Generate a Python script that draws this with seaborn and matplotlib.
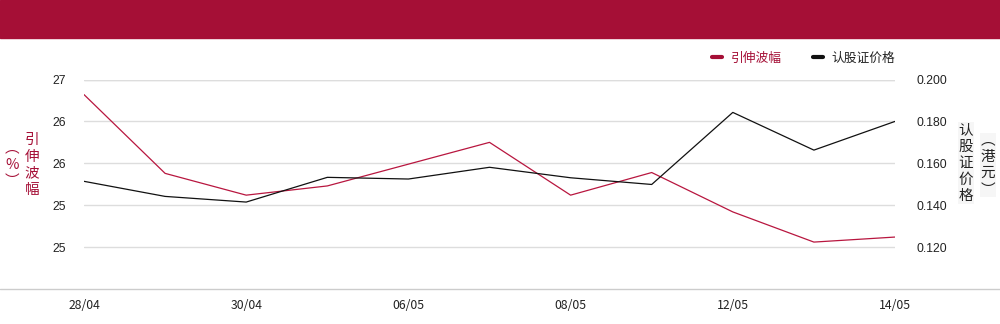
import matplotlib
matplotlib.use("Agg")
import matplotlib.pyplot as plt
import seaborn as sns
import pandas as pd
from matplotlib.lines import Line2D
from matplotlib.patches import Rectangle

dates = ["28/04", "29/04", "30/04", "05/05", "06/05", "07/05", "08/05", "11/05", "12/05", "13/05", "14/05"]
implied_vol = [26.82, 25.88, 25.62, 25.73, 25.99, 26.25, 25.62, 25.89, 25.42, 25.06, 25.12]
warrant_price = [0.1514, 0.1442, 0.1415, 0.1533, 0.1525, 0.1581, 0.1531, 0.1499, 0.1843, 0.1663, 0.1800]
left_ticks = [25, 25.5, 26, 26.5, 27]
left_labels = ["25", "25", "26", "26", "27"]
right_ticks = [0.12, 0.14, 0.16, 0.18, 0.20]
right_labels = ["0.120", "0.140", "0.160", "0.180", "0.200"]
shown_dates = ["28/04", "30/04", "06/05", "08/05", "12/05", "14/05"]

RED = "#A50F36"
LINE_RED = "#B8163F"
sns.set_theme(style="white")
plt.rcParams['font.family'] = ['Noto Sans CJK SC', 'DejaVu Sans']

df = pd.DataFrame({"x": range(len(dates)), "vol": implied_vol, "price": warrant_price})

fig = plt.figure(figsize=(10, 3.24), dpi=100)
ax = fig.add_axes([0.084, 0.108, 0.811, 0.6466])
ax2 = ax.twinx()

sns.lineplot(data=df, x="x", y="vol", ax=ax, color=LINE_RED, linewidth=0.9)
sns.lineplot(data=df, x="x", y="price", ax=ax2, color="#111111", linewidth=0.9)

ax.set_xlim(0, len(dates) - 1)
ax.set_ylim(24.5, 27)
ax2.set_ylim(0.10, 0.20)
ax.set_yticks(left_ticks)
ax.set_yticklabels(left_labels, family=["Liberation Sans"])
ax2.set_yticks(right_ticks)
ax2.set_yticklabels(right_labels, family=["Liberation Sans"])
xt = [dates.index(d) for d in shown_dates]
ax.set_xticks(xt)
ax.set_xticklabels(shown_dates)
ax.set_xlabel("")
ax.set_ylabel("")
ax2.set_ylabel("")

for t in left_ticks + [27]:
    ax.axhline(t, color="#dddddd", linewidth=1, zorder=0)
ax.set_axisbelow(True)

for a in (ax, ax2):
    for s in a.spines.values():
        s.set_visible(False)
ax.tick_params(axis="y", length=0, pad=13, labelsize=8.8, colors="#222222")
ax2.tick_params(axis="y", length=0, pad=15.5, labelsize=8.8, colors="#222222")
ax.tick_params(axis="x", length=0, pad=7, labelsize=8.8, colors="#222222")

# bottom full-width line
fig.add_artist(Line2D([0, 1], [0.108, 0.108], transform=fig.transFigure, color="#cccccc", linewidth=1))

# banner
fig.add_artist(Rectangle((0, 1 - 38 / 324), 1, 38 / 324, transform=fig.transFigure, color=RED, zorder=0))

# legend
handles = [Line2D([], [], color=RED, linewidth=3), Line2D([], [], color="#111111", linewidth=3)]
leg = fig.legend(handles, ["引伸波幅", "认股证价格"], loc="center right",
                 bbox_to_anchor=(0.907, 1 - 58 / 324), ncol=2, frameon=False,
                 handlelength=0.8, handletextpad=0.7, columnspacing=2.4, fontsize=9.2)
leg.get_texts()[0].set_color(RED)
leg.get_texts()[1].set_color("#222222")

# vertical axis titles
def vtext(x, y, s, color, bg=None):
    kw = dict(transform=fig.transFigure, ha="center", va="center", fontsize=10.5,
              color=color, linespacing=1.22)
    if bg:
        kw["bbox"] = dict(facecolor=bg, edgecolor="none", pad=0.5)
    fig.text(x, y, "\n".join(s), **kw)

vtext(32 / 1000, 1 - 165 / 324, "引伸波幅", RED)
vtext(12 / 1000, 1 - 165 / 324, "︵%︶", RED)
vtext(966 / 1000, 1 - 163 / 324, "认股证价格", "#222222", bg="#f6f6f6")
vtext(988 / 1000, 1 - 165 / 324, "︵港元︶", "#222222", bg="#f6f6f6")

fig.savefig("out.png", dpi=100)
